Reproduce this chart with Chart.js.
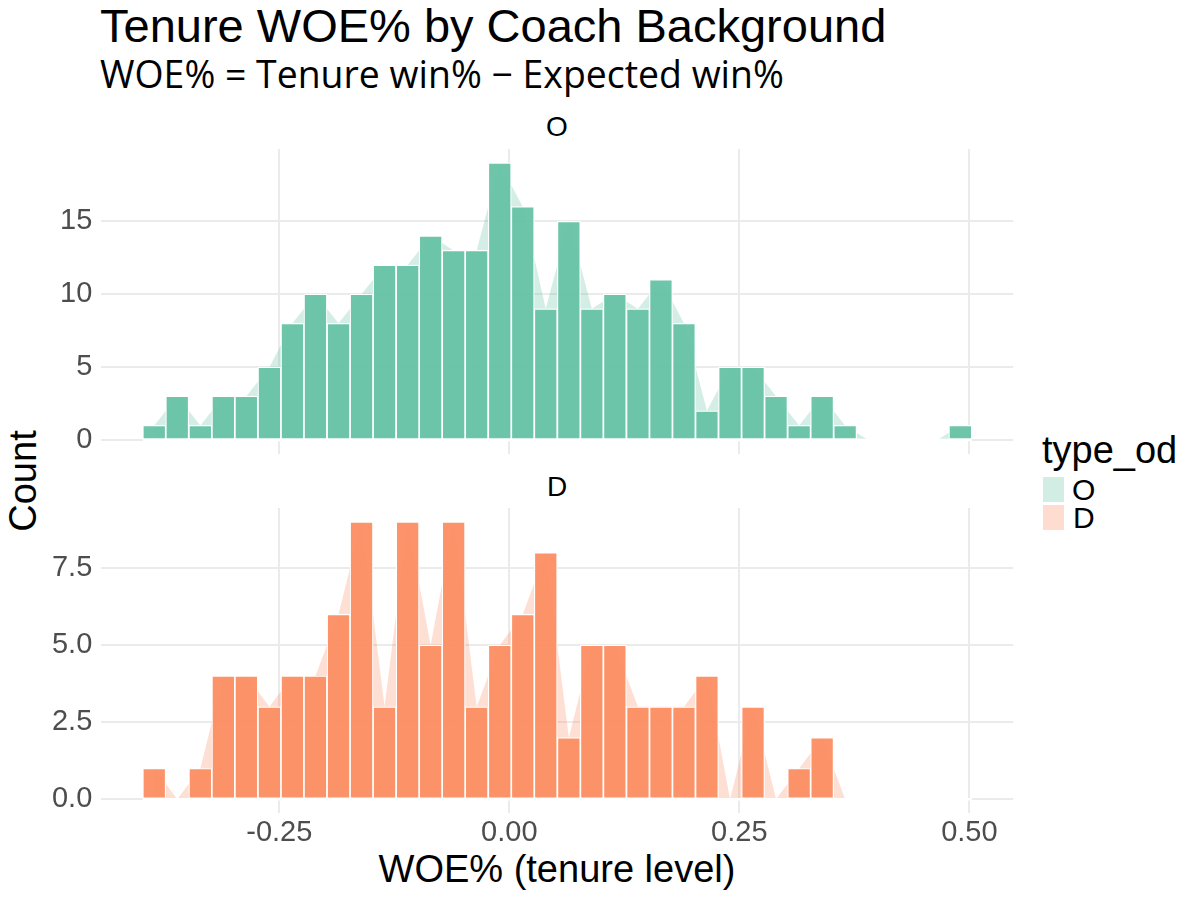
<!DOCTYPE html>
<html>
<head>
<meta charset="utf-8">
<script src="https://cdn.jsdelivr.net/npm/chart.js@4.4.1/dist/chart.umd.min.js"></script>
<style>
html,body{margin:0;padding:0;background:#fff;}
#wrap{position:relative;width:1200px;height:900px;overflow:hidden;background:#fff;font-family:"Liberation Sans",Arial,sans-serif;}
.t{position:absolute;white-space:nowrap;line-height:1;color:#000;}
canvas{position:absolute;left:0;}
.key{position:absolute;width:21px;height:25px;}
</style>
</head>
<body>
<div id="wrap">
  <div class="t" style="left:100px;top:2px;font-size:47px;">Tenure WOE% by Coach Background</div>
  <div class="t" style="left:100px;top:55px;font-size:37.4px;font-family:'Open Sans',sans-serif;">WOE% = Tenure win% − Expected win%</div>
  <div class="t" style="left:101px;width:912px;text-align:center;top:113px;font-size:28px;">O</div>
  <div class="t" style="left:101px;width:912px;text-align:center;top:473px;font-size:28px;">D</div>
  <div class="t" style="left:101px;width:912px;text-align:center;top:850px;font-size:38px;">WOE% (tenure level)</div>
  <div class="t" style="left:23px;top:481px;font-size:38px;transform:translate(-50%,-50%) rotate(-90deg);">Count</div>
  <div class="t" style="left:1042px;top:431px;font-size:38px;">type_od</div>
  <div class="key" style="left:1043px;top:477px;background:rgba(102,194,165,0.3);"></div>
  <div class="key" style="left:1043px;top:505px;background:rgba(252,141,98,0.3);"></div>
  <div class="t" style="left:1072px;top:475px;font-size:30px;">O</div>
  <div class="t" style="left:1073px;top:503px;font-size:30px;">D</div>
  <canvas id="cO" width="1200" height="380" style="top:105px;width:1200px;height:380px;"></canvas>
  <canvas id="cD" width="1200" height="425" style="top:475px;width:1200px;height:425px;"></canvas>
</div>
<script>
// Bin centers (WOE%)
const binCenters = [-0.3859,-0.3609,-0.3358,-0.3108,-0.2858,-0.2607,-0.2357,-0.2107,-0.1856,-0.1606,
  -0.1356,-0.1105,-0.0855,-0.0605,-0.0355,-0.0104,0.0146,0.0396,0.0647,0.0897,
  0.1147,0.1398,0.1648,0.1898,0.2148,0.2399,0.2649,0.2899,0.3150,0.3400,
  0.3650,0.3901,0.4151,0.4401,0.4652,0.4902];
// Counts per bin, offensive-background coaches (O)
const countsO = [1,3,1,3,3,5,8,10,8,10,12,12,14,13,13,19,16,9,15,9,10,9,11,8,2,5,5,3,1,3,1,0,0,0,0,1];
// Counts per bin, defensive-background coaches (D)
const countsD = [1,0,1,4,4,3,4,4,6,9,3,9,5,9,3,5,6,8,2,5,5,3,3,3,4,0,3,0,1,2,0,0,0,0,0,0];
// Tick values / labels
const xTickValues = [-0.25, 0, 0.25, 0.5];
const xTickLabels = ["-0.25", "0.00", "0.25", "0.50"];
const yTickValuesO = [0, 5, 10, 15];
const yTickLabelsO = ["0", "5", "10", "15"];
const yTickValuesD = [0, 2.5, 5, 7.5];
const yTickLabelsD = ["0.0", "2.5", "5.0", "7.5"];

Chart.defaults.font.family = "'Liberation Sans', Arial, sans-serif";

const halfW = (binCenters[1] - binCenters[0]) / 2;
const xLo = binCenters[0] - halfW, xHi = binCenters[binCenters.length - 1] + halfW;
const xPad = (xHi - xLo) * 0.05;

function makeChart(id, counts, barColor, areaColor, yTicks, yLabels, showX, padTop, padBottom) {
  const yMaxData = Math.max(...counts);
  const yPad = yMaxData * 0.05;
  return new Chart(document.getElementById(id), {
    type: 'bar',
    data: {
      datasets: [
        {
          type: 'bar',
          data: binCenters.map((x, i) => ({x: x, y: counts[i]})),
          backgroundColor: barColor,
          borderColor: '#ffffff',
          borderWidth: 1.2,
          borderSkipped: false,
          barPercentage: 1,
          categoryPercentage: 1,
          grouped: false,
          order: 0
        },
        {
          type: 'line',
          data: [{x: xLo, y: 0}, {x: xHi, y: 0}],
          borderColor: '#ffffff',
          borderWidth: 2.5,
          pointRadius: 0,
          fill: false,
          order: 1
        },
        {
          type: 'line',
          data: binCenters.map((x, i) => ({x: x, y: counts[i]})),
          borderWidth: 0,
          borderColor: 'rgba(0,0,0,0)',
          backgroundColor: areaColor,
          fill: 'origin',
          pointRadius: 0,
          tension: 0,
          order: 2
        }
      ]
    },
    options: {
      responsive: false,
      animation: false,
      devicePixelRatio: 1,
      layout: {padding: {left: 0, right: 186.7, top: padTop, bottom: padBottom}},
      plugins: {legend: {display: false}, tooltip: {enabled: false}, title: {display: false}},
      scales: {
        x: {
          type: 'linear',
          min: xLo - xPad,
          max: xHi + xPad,
          offset: false,
          grid: {color: '#ebebeb', lineWidth: 2, drawTicks: false, offset: false},
          border: {display: false},
          afterBuildTicks: s => { s.ticks = xTickValues.map(v => ({value: v})); },
          afterFit: s => { s.height = showX ? 86.8 : 0; },
          ticks: {
            display: showX,
            autoSkip: false,
            maxRotation: 0,
            padding: 2,
            color: '#4d4d4d',
            font: {size: 29},
            callback: (v, i) => xTickLabels[i]
          }
        },
        y: {
          type: 'linear',
          min: -yPad,
          max: yMaxData + yPad,
          grid: {color: '#ebebeb', lineWidth: 2, drawTicks: false},
          border: {display: false},
          afterBuildTicks: s => { s.ticks = yTicks.map(v => ({value: v})); },
          afterFit: s => { s.width = 101.3; },
          ticks: {
            padding: 9,
            color: '#4d4d4d',
            font: {size: 29},
            callback: (v, i) => yLabels[i]
          }
        }
      }
    }
  });
}

makeChart('cO', countsO, 'rgba(102,194,165,0.95)', 'rgba(102,194,165,0.28)', yTickValuesO, yTickLabelsO, false, 44.1, 31.15);
makeChart('cD', countsD, 'rgba(252,141,98,0.95)', 'rgba(252,141,98,0.28)', yTickValuesD, yTickLabelsD, true, 32.9, 0);
</script>
</body>
</html>
